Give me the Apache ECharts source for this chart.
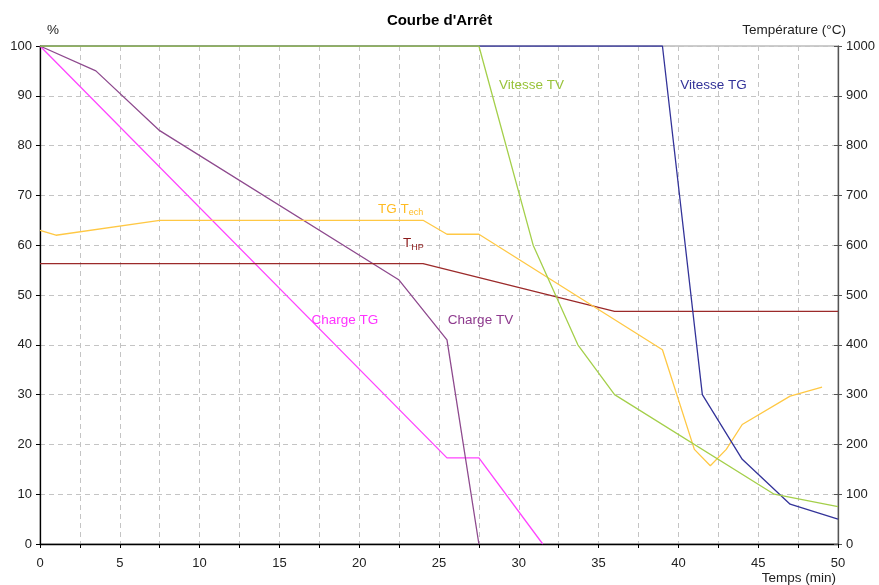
<!DOCTYPE html>
<html>
<head>
<meta charset="utf-8">
<script src="https://cdn.jsdelivr.net/npm/echarts@6/dist/echarts.min.js"></script>
<style>html,body{margin:0;padding:0;background:#fff}#c{width:879px;height:585px}</style>
</head>
<body>
<div id="c"></div>
<script>
// ---- Data ----
const xTicks = [0, 5, 10, 15, 20, 25, 30, 35, 40, 45, 50];
const pctTicks = [0, 10, 20, 30, 40, 50, 60, 70, 80, 90, 100];
const tempTicks = [0, 100, 200, 300, 400, 500, 600, 700, 800, 900, 1000];

const vitesseTV_t = [0, 27.5, 30.9, 33.7, 36.0, 46.0, 50];
const vitesseTV_v = [100, 100, 60, 40, 30, 10, 7.5];

const vitesseTG_t = [0, 39.0, 41.5, 44.0, 47.0, 50];
const vitesseTG_v = [100, 100, 30, 17, 8, 5];

const chargeTG_t = [0, 25.5, 27.5, 31.5];
const chargeTG_v = [100, 17.3, 17.3, 0];

const chargeTV_t = [0, 3.5, 7.5, 22.5, 25.5, 27.5];
const chargeTV_v = [100, 95, 83, 53, 41, 0];

const tgTech_t = [0, 1.0, 7.5, 24.0, 25.5, 27.5, 39.0, 41.0, 42.0, 43.0, 44.0, 47.0, 49.0];
const tgTech_v = [630, 620, 650, 650, 622, 622, 390, 190, 157, 190, 240, 297, 315];

const tHP_t = [0, 24.0, 36.0, 50];
const tHP_v = [563, 563, 467, 467];

// ---- helpers ----
const zip = (a, b) => a.map((x, i) => [x, b[i]]);
const FONT = '"Liberation Sans", Arial, sans-serif';
const LFS = 13.5;

function lbl(coord, text, color, rich) {
  return {
    symbol: 'circle', symbolSize: 0,
    data: [{ coord: coord, value: text }],
    label: {
      show: true, position: 'inside', color: color,
      fontFamily: FONT, fontSize: LFS,
      formatter: text, rich: rich || {}
    }
  };
}

function line(name, t, v, color, yIdx, mp) {
  return {
    name: name, type: 'line', yAxisIndex: yIdx, data: zip(t, v),
    symbol: 'none', lineStyle: { color: color, width: 1.3 },
    itemStyle: { color: color }, z: 3, markPoint: mp, silent: true
  };
}

const chart = echarts.init(document.getElementById('c'));
chart.setOption({
  animation: false,
  backgroundColor: '#fff',
  title: {
    text: "Courbe d'Arrêt", left: 'center', top: 8,
    textStyle: { fontFamily: FONT, fontSize: 15, fontWeight: 'bold', color: '#000' }
  },
  grid: { left: 40, right: 41, top: 46, bottom: 40, show: true, borderColor: '#999', borderWidth: 1 },
  xAxis: {
    type: 'value', min: 0, max: 50, interval: 2.5,
    name: 'Temps (min)', nameLocation: 'end', nameGap: 0,
    nameTextStyle: { fontFamily: FONT, fontSize: LFS, color: '#222', align: 'right', verticalAlign: 'top', padding: [27, 2, 0, 0] },
    axisLine: { lineStyle: { color: '#000', width: 1.3 } },
    axisTick: { length: 4, lineStyle: { color: '#000' } },
    axisLabel: {
      fontFamily: FONT, fontSize: 13, color: '#222', margin: 13,
      formatter: v => (xTicks.includes(v) ? String(v) : '')
    },
    splitLine: { show: true, lineStyle: { color: '#c4c4c4', type: [5, 4] } }
  },
  yAxis: [
    {
      type: 'value', min: 0, max: 100, interval: 10, position: 'left',
      name: '%', nameLocation: 'end', nameGap: 9,
      nameTextStyle: { fontFamily: FONT, fontSize: LFS, color: '#222', align: 'left', padding: [0, 0, 0, 7] },
      axisLine: { show: true, lineStyle: { color: '#000', width: 1.3 } },
      axisTick: { show: true, length: 4, lineStyle: { color: '#000' } },
      axisLabel: { fontFamily: FONT, fontSize: 13, color: '#222', margin: 8,
        formatter: v => (pctTicks.includes(v) ? String(v) : '') },
      splitLine: { show: true, lineStyle: { color: '#c4c4c4', type: [5, 4] } }
    },
    {
      type: 'value', min: 0, max: 1000, interval: 100, position: 'right',
      name: 'Température (°C)', nameLocation: 'end', nameGap: 9,
      nameTextStyle: { fontFamily: FONT, fontSize: LFS, color: '#222', align: 'right', padding: [0, -8, 0, 0] },
      axisLine: { show: true, lineStyle: { color: '#555', width: 1.3 } },
      axisTick: { show: true, length: 4, lineStyle: { color: '#555' } },
      axisLabel: { fontFamily: FONT, fontSize: 13, color: '#222', margin: 8,
        formatter: v => (tempTicks.includes(v) ? String(v) : '') },
      splitLine: { show: false }
    },
    {
      type: 'value', min: 0, max: 1000, interval: 100, position: 'right',
      axisLine: { show: false },
      axisTick: { show: true, inside: true, length: 4, lineStyle: { color: '#555' } },
      axisLabel: { show: false }, splitLine: { show: false }
    }
  ],
  series: [
    line('Charge TG', chargeTG_t, chargeTG_v, '#ff44ff', 0, lbl([19.1, 44.9], 'Charge TG', '#ff33ff')),
    line('Charge TV', chargeTV_t, chargeTV_v, '#8e4a8e', 0, lbl([27.6, 44.9], 'Charge TV', '#8e3a8e')),
    line('THP', tHP_t, tHP_v, '#9b2a2a', 1, lbl([23.4, 603], '{a|T}{s|HP}', '#8b1a1a',
      { a: { fontFamily: FONT, fontSize: LFS, color: '#8b1a1a' }, s: { fontFamily: FONT, fontSize: 9, color: '#8b1a1a', padding: [7, 0, 0, 0] } })),
    line('TG Tech', tgTech_t, tgTech_v, '#ffc844', 1, lbl([22.6, 673], '{a|TG T}{s|ech}', '#ffbb22',
      { a: { fontFamily: FONT, fontSize: LFS, color: '#ffbb22' }, s: { fontFamily: FONT, fontSize: 9, color: '#ffbb22', padding: [7, 0, 0, 0] } })),
    line('Vitesse TG', vitesseTG_t, vitesseTG_v, '#333399', 0, lbl([42.2, 92.2], 'Vitesse TG', '#333399')),
    line('Vitesse TV', vitesseTV_t, vitesseTV_v, '#a4cf4a', 0, lbl([30.8, 92.2], 'Vitesse TV', '#99c33a'))
  ]
});
</script>
</body>
</html>
